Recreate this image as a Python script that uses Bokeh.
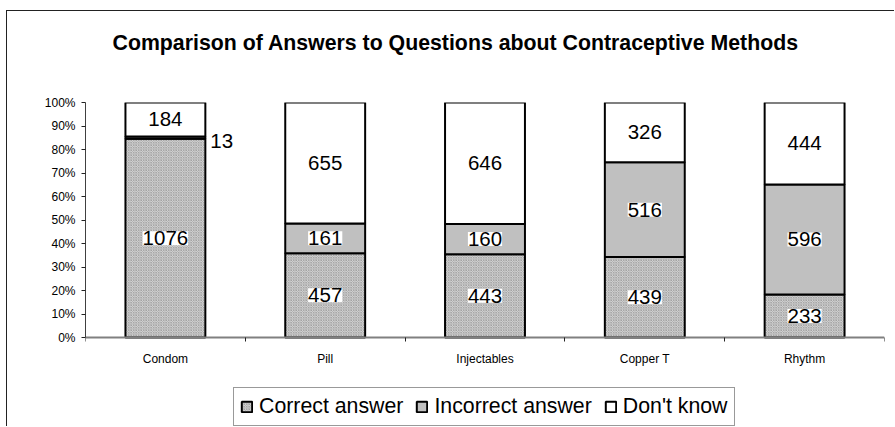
from bokeh.plotting import figure
from bokeh.models import (ColumnDataSource, FixedTicker, NumeralTickFormatter, LabelSet,
                          Legend, LegendItem, Range1d, Title)
from bokeh.core.properties import value
from bokeh.embed import file_html
from bokeh.resources import INLINE

categories = ["Condom", "Pill", "Injectables", "Copper T", "Rhythm"]
correct = [1076, 457, 443, 439, 233]
incorrect = [13, 161, 160, 516, 596]
dont_know = [184, 655, 646, 326, 444]
series_names = ["Correct answer", "Incorrect answer", "Don't know"]
y_ticks = [0.0, 0.1, 0.2, 0.3, 0.4, 0.5, 0.6, 0.7, 0.8, 0.9, 1.0]
chart_title = "Comparison of Answers to Questions about Contraceptive Methods"

FONT = "Liberation Sans"
n = len(categories)
xs = list(range(n))
totals = [a + b + c for a, b, c in zip(correct, incorrect, dont_know)]
series = [correct, incorrect, dont_know]
fracs = [[v / t for v, t in zip(s, totals)] for s in series]

bottoms, tops = [], []
acc = [0.0] * n
for f in fracs:
    bottoms.append(list(acc))
    acc = [a + v for a, v in zip(acc, f)]
    tops.append(list(acc))

src = ColumnDataSource(dict(
    x=xs,
    b0=bottoms[0], t0=tops[0],
    b1=bottoms[1], t1=tops[1],
    b2=bottoms[2], t2=tops[2],
))

# layout (pixels): plot top, zero line, bottom of canvas
TOP_PX, ZERO_PX, BOTTOM_PX = 102, 337, 427
y_start = -(BOTTOM_PX - ZERO_PX) / (ZERO_PX - TOP_PX)

p = figure(width=888, height=416, output_backend="svg", toolbar_location=None, title=None,
           x_range=Range1d(-0.5, n - 0.5), y_range=Range1d(y_start, 1),
           min_border_left=78, min_border_right=11, min_border_top=91, min_border_bottom=0,
           background_fill_color="white", border_fill_color="white",
           outline_line_color=None)
p.styles = {"margin-left": "6px", "margin-top": "10px",
            "border-top": "1px solid #222222", "border-left": "1px solid #222222"}

# spacer between plot area and title, then the title itself
p.add_layout(Title(text=" ", text_font=FONT, text_font_size="21px", standoff=23), "above")
p.add_layout(Title(text=chart_title, text_font=FONT, text_font_size="21.3px",
                   text_font_style="bold", text_color="black", align="left",
                   offset=27, standoff=0), "above")

BAR_W = 0.5
r0 = p.vbar(x="x", width=BAR_W, bottom="b0", top="t0", source=src,
            fill_color="#d4d4d4", hatch_pattern="diagonal_cross", hatch_scale=2.5,
            hatch_color="#999999", hatch_weight=0.7,
            line_color="black", line_width=2)
r1 = p.vbar(x="x", width=BAR_W, bottom="b1", top="t1", source=src,
            fill_color="#c0c0c0", line_color="black", line_width=2)
r2 = p.vbar(x="x", width=BAR_W, bottom="b2", top="t2", source=src,
            fill_color="white", line_color="black", line_width=2)

# value labels
in_x, in_y, in_t = [], [], []
out_x, out_y, out_t = [], [], []
for s, vals in enumerate(series):
    for i in range(n):
        mid = (bottoms[s][i] + tops[s][i]) / 2
        if fracs[s][i] < 0.03:
            out_x.append(xs[i] + BAR_W / 2)
            out_y.append(mid)
            out_t.append(str(vals[i]))
        else:
            in_x.append(xs[i])
            in_y.append(mid)
            in_t.append(str(vals[i]))

lab_in = LabelSet(x="x", y="y", text="t", source=ColumnDataSource(dict(x=in_x, y=in_y, t=in_t)),
                  text_align="center", text_baseline="middle", text_font=value(FONT),
                  text_font_size="20.5px", text_color="black",
                  background_fill_color="white")
lab_out = LabelSet(x="x", y="y", text="t", source=ColumnDataSource(dict(x=out_x, y=out_y, t=out_t)),
                   text_align="left", text_baseline="middle", text_font=value(FONT),
                   x_offset=5, y_offset=-3,
                   text_font_size="20.5px", text_color="black")
p.add_layout(lab_in)
p.add_layout(lab_out)

# y axis
p.yaxis.ticker = FixedTicker(ticks=y_ticks)
p.yaxis.formatter = NumeralTickFormatter(format="0%")
p.yaxis.bounds = (0, 1)
p.yaxis.major_label_text_font = FONT
p.yaxis.major_label_text_font_size = "12px"
p.yaxis.major_label_text_color = "black"
p.yaxis.axis_line_color = "#404040"
p.yaxis.axis_line_width = 1
p.yaxis.major_tick_line_color = "#222222"
p.yaxis.major_tick_out = 4
p.yaxis.major_tick_in = 0
p.yaxis.minor_tick_line_color = None
p.yaxis.major_label_standoff = 6

# x axis (drawn at the 0% line)
p.xaxis.fixed_location = 0
p.xaxis.ticker = FixedTicker(ticks=xs, minor_ticks=[i - 0.5 for i in range(n + 1)])
p.xaxis.major_label_overrides = {x: c for x, c in zip(xs, categories)}
p.xaxis.major_label_text_font = FONT
p.xaxis.major_label_text_font_size = "12px"
p.xaxis.major_label_text_color = "black"
p.xaxis.axis_line_color = "#808080"
p.xaxis.axis_line_width = 2
p.xaxis.major_tick_line_color = None
p.xaxis.major_tick_out = 0
p.xaxis.major_tick_in = 0
p.xaxis.minor_tick_line_color = "#222222"
p.xaxis.minor_tick_out = 4
p.xaxis.minor_tick_in = 0
p.xaxis.major_label_standoff = 10

p.xgrid.grid_line_color = None
p.ygrid.grid_line_color = None

legend = Legend(items=[LegendItem(label=nm, renderers=[r]) for nm, r in zip(series_names, [r0, r1, r2])],
                orientation="horizontal", location=(148, 1),
                label_text_font=FONT, label_text_font_size="21.3px", label_text_color="black",
                glyph_width=13, glyph_height=13, label_standoff=6, spacing=12, padding=6,
                border_line_color="#333333", border_line_width=1,
                background_fill_color="white", margin=0)
p.add_layout(legend)

open("out.html", "w").write(file_html(p, INLINE))
